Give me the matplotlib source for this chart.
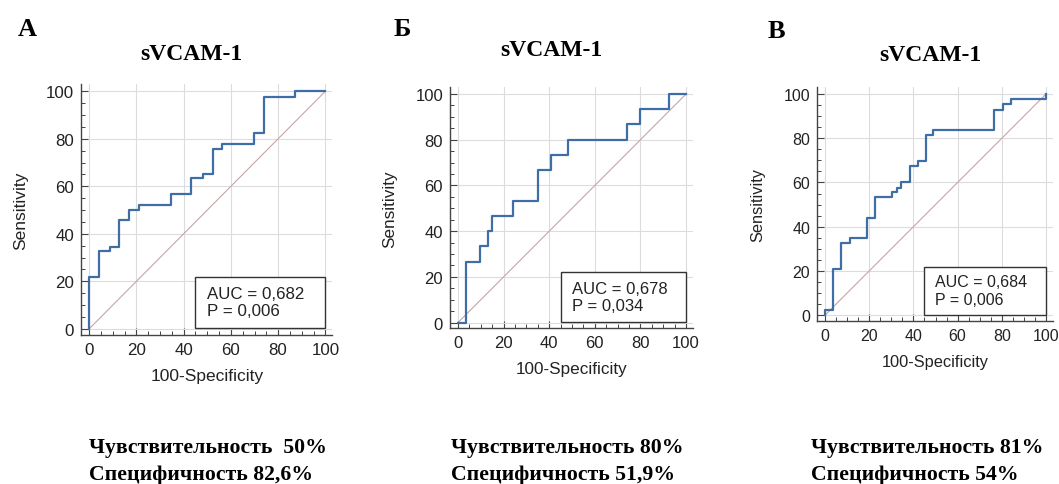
import matplotlib
matplotlib.use("Agg")
import matplotlib.pyplot as plt
from matplotlib.patches import Rectangle

# данные ROC-кривых (100-Specificity, Sensitivity)
fpr_a = [0, 0, 4.1, 8.8, 12.7, 17.0, 21.2, 34.7, 43.1, 48.1, 52.3, 56.2, 69.9, 74.1, 87.3, 100]
tpr_a = [0, 21.7, 32.7, 34.6, 45.6, 50.1, 52.2, 56.7, 63.3, 65.2, 75.7, 77.8, 82.3, 97.5, 100, 100]

fpr_b = [0, 3.6, 9.5, 13.1, 14.7, 24.1, 35.1, 41.0, 48.3, 74.1, 79.9, 92.7, 100]
tpr_b = [0, 26.7, 33.3, 40.0, 46.7, 53.3, 66.7, 73.3, 80.0, 86.7, 93.3, 100, 100]

fpr_c = [0, 0, 3.5, 7.2, 11.3, 18.9, 22.6, 30.2, 32.4, 34.2, 38.5, 41.9, 45.7, 49.0, 76.6, 80.4, 84.2, 100]
tpr_c = [0, 2.3, 21.0, 32.8, 34.7, 44.1, 53.6, 55.9, 57.7, 60.4, 67.5, 69.8, 81.4, 83.7, 92.9, 95.5, 97.7, 100]

letters = ["А", "Б", "В"]
titles = ["sVCAM-1", "sVCAM-1", "sVCAM-1"]
auc_text = ["AUC = 0,682\nP = 0,006", "AUC = 0,678\nP = 0,034", "AUC = 0,684\nP = 0,006"]
sens_text = ["Чувствительность  50%", "Чувствительность 80%", "Чувствительность 81%"]
spec_text = ["Специфичность 82,6%", "Специфичность 51,9%", "Специфичность 54%"]

W, H = 1059, 485
fig = plt.figure(figsize=(W / 100, H / 100), dpi=100)

# положение осей в пикселях: левый край, правый край, низ, верх
ax_px = [(81, 332.4, 335.7, 85.2), (450, 692.9, 329.3, 88.2), (817.3, 1052.6, 321.7, 88.4)]
letter_px = [(27, 29), (402, 29), (776, 31)]
title_px = [(191, 55), (551, 50), (930, 55.5)]
bottom_px = [(89, 453, 480), (451, 453, 480), (811, 453, 480)]
fsz = [12.2, 12.0, 11.5]

curves = [(fpr_a, tpr_a), (fpr_b, tpr_b), (fpr_c, tpr_c)]

sans = "Liberation Sans"
serif = "Liberation Serif"

for i, (fpr, tpr) in enumerate(curves):
    l, r, b, t = ax_px[i]
    ax = fig.add_axes([l / W, (H - b) / H, (r - l) / W, (b - t) / H])
    ax.set_xlim(-3.5, 103)
    ax.set_ylim(-2.5, 103)

    ax.plot([0, 100], [0, 100], color="#c9a3a8", lw=0.8, zorder=2)
    ax.plot(fpr, tpr, drawstyle="steps-post", color="#3f6ea6", lw=1.6, zorder=3)

    ax.add_patch(Rectangle((45, 0.3), 55, 21.7, facecolor="white",
                           edgecolor="#333333", lw=1.0, zorder=4))
    ax.text(49.8, 11.2, auc_text[i], fontsize=fsz[i], family=sans, color="#222222",
            va="center", ha="left", linespacing=1.2, zorder=5)

    ax.set_xticks(range(0, 101, 20))
    ax.set_yticks(range(0, 101, 20))
    ax.set_xticks(range(0, 101, 5), minor=True)
    ax.set_yticks(range(0, 101, 5), minor=True)
    ax.grid(True, which="major", color="#dcdcdc", lw=0.8, zorder=0)
    ax.set_axisbelow(True)
    ax.tick_params(which="major", direction="in", length=5, width=0.8,
                   colors="#444444", labelcolor="#222222", labelsize=fsz[i], pad=5)
    ax.tick_params(which="minor", direction="in", length=3, width=0.7, colors="#444444")
    for lab in ax.get_xticklabels() + ax.get_yticklabels():
        lab.set_family(sans)

    for s in ["top", "right"]:
        ax.spines[s].set_visible(False)
    for s in ["left", "bottom"]:
        ax.spines[s].set_color("#444444")
        ax.spines[s].set_linewidth(1.0)

    ax.set_xlabel("100-Specificity", fontsize=fsz[i] + 0.3, family=sans, color="#222222", labelpad=8)
    ax.set_ylabel("Sensitivity", fontsize=fsz[i] + 0.3, family=sans, color="#222222", labelpad=13)

    lx, ly = letter_px[i]
    fig.text(lx / W, 1 - ly / H, letters[i], fontsize=19, family=serif,
             weight="bold", ha="center", va="center")
    tx, ty = title_px[i]
    fig.text(tx / W, 1 - ty / H, titles[i], fontsize=17, family=serif,
             weight="bold", ha="center", va="center")
    bx, by1, by2 = bottom_px[i]
    fig.text(bx / W, 1 - by1 / H, sens_text[i], fontsize=15.7, family=serif,
             weight="bold", ha="left", va="baseline")
    fig.text(bx / W, 1 - by2 / H, spec_text[i], fontsize=15.7, family=serif,
             weight="bold", ha="left", va="baseline")

fig.savefig("out.png", dpi=100, facecolor="white")
